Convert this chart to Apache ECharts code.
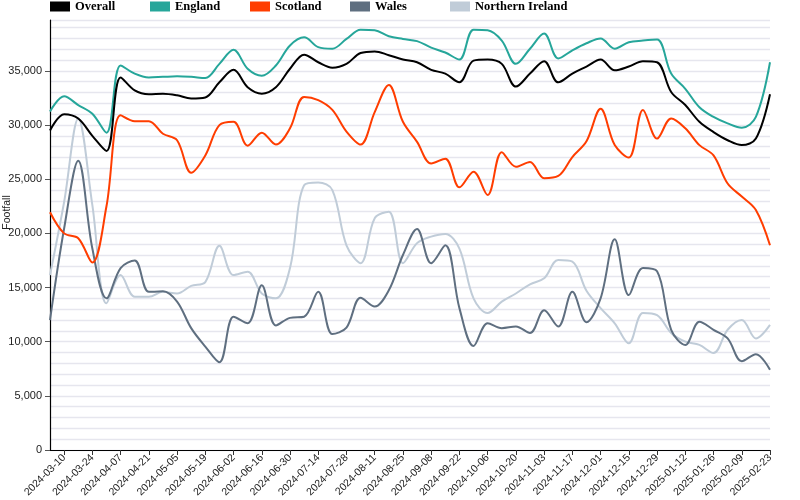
<!DOCTYPE html>
<html>
<head>
<meta charset="utf-8">
<script src="https://cdn.jsdelivr.net/npm/echarts@6/dist/echarts.min.js"></script>
<style>
html,body{margin:0;padding:0;background:#fff;}
#chart{width:800px;height:500px;}
</style>
</head>
<body>
<div id="chart"></div>
<script>
const weeks = ["2024-03-03","2024-03-10","2024-03-17","2024-03-24","2024-03-31","2024-04-07","2024-04-14","2024-04-21","2024-04-28","2024-05-05","2024-05-12","2024-05-19","2024-05-26","2024-06-02","2024-06-09","2024-06-16","2024-06-23","2024-06-30","2024-07-07","2024-07-14","2024-07-21","2024-07-28","2024-08-04","2024-08-11","2024-08-18","2024-08-25","2024-09-01","2024-09-08","2024-09-15","2024-09-22","2024-09-29","2024-10-06","2024-10-13","2024-10-20","2024-10-27","2024-11-03","2024-11-10","2024-11-17","2024-11-24","2024-12-01","2024-12-08","2024-12-15","2024-12-22","2024-12-29","2025-01-05","2025-01-12","2025-01-19","2025-01-26","2025-02-02","2025-02-09","2025-02-16","2025-02-23"];

const overall = [29500,31000,30600,29000,27600,34400,33200,32850,32900,32750,32450,32550,33950,35100,33500,32900,33500,35200,36500,35800,35300,35650,36650,36800,36450,36050,35800,35100,34750,33950,35950,36050,35650,33550,34750,35900,33950,34750,35400,36050,35050,35400,35900,35800,33050,31850,30300,29350,28600,28150,28750,32850];
const england = [31250,32650,31850,31050,29300,35500,34750,34400,34450,34500,34450,34350,35650,36950,35200,34550,35500,37350,38100,37200,37050,37950,38800,38750,38200,37950,37750,37150,36700,36050,38800,38750,37800,35650,37050,38450,36150,36900,37550,38000,37050,37650,37800,37900,34750,33350,31650,30750,30150,29750,30750,35800];
const scotland = [21950,20000,19550,17300,22500,30900,30350,30350,29200,28600,25600,27200,30000,30300,28100,29300,28200,29700,32600,32300,31400,29400,28200,31200,33700,30300,28450,26450,26900,24250,25700,23550,27500,26150,26600,25100,25300,27050,28500,31500,28150,27000,31400,28750,30600,29700,28150,27200,24600,23400,22150,18900];
const wales = [12000,20450,26700,18600,14000,16800,17500,14600,14650,13700,11250,9550,8100,12300,11700,15200,11500,12200,12300,14600,10700,11300,14050,13250,14750,18000,20400,17250,18900,13100,9600,11700,11250,11400,10800,12900,11400,14600,11800,14000,19450,14300,16800,16500,11100,9700,11850,11100,10300,8200,8850,7400];
const northernIreland = [16150,22900,30600,22600,13550,16150,14150,14150,14600,14450,15150,15500,18850,16150,16450,14450,14000,16800,24450,24700,24000,18900,17250,21400,22000,17250,19100,19700,19950,18600,14000,12650,13700,14450,15300,15850,17550,17400,14700,13100,11700,9850,12650,12450,10800,10000,9700,8950,11100,12000,10300,11550];

const yTickValues = [0,5000,10000,15000,20000,25000,30000,35000];
const seriesNames = ["Overall","England","Scotland","Wales","Northern Ireland"];
const seriesColors = ["#000000","#26a69a","#ff3d00","#5f6f80","#c0ccd8"];
const seriesData = [overall, england, scotland, wales, northernIreland];

const yMax = 39700;
const chart = echarts.init(document.getElementById('chart'), null, {renderer:'canvas'});

const legends = seriesNames.map((n,i)=>({
  data:[{name:n, icon:'rect'}],
  left: 50 + 100*i, top: 0, padding: 0,
  itemWidth: 20, itemHeight: 10,
  textStyle:{fontFamily:'"Liberation Serif", serif', fontSize:12.5, fontWeight:'bold', color:'#000'},
  selectedMode:false
}));

const oddOnly = (idx)=> idx % 2 === 1;

chart.setOption({
  animation:false,
  backgroundColor:'#fff',
  legend: legends,
  grid:{left:50, right:30, top:20, bottom:50, containLabel:false, outerBoundsMode:'none'},
  xAxis:[{
    type:'category', data: weeks, boundaryGap:false,
    axisLine:{lineStyle:{color:'#000', width:1.2}},
    axisTick:{interval: oddOnly, length:5, lineStyle:{color:'#333'}},
    axisLabel:{interval: oddOnly, rotate:45, fontSize:10.5, color:'#222', fontFamily:'"Liberation Sans", Arial, sans-serif', margin:6},
    splitLine:{show:false}
  },{
    type:'category', data: weeks, boundaryGap:false, position:'top',
    axisLine:{show:true, lineStyle:{color:'#000', width:1.2}},
    axisTick:{show:false}, axisLabel:{show:false}, splitLine:{show:false}
  }],
  yAxis:[{
    type:'value', min:0, max:yMax, interval:5000,
    name:'Footfall', nameLocation:'middle', nameGap:37, nameMoveOverlap:false,
    nameTextStyle:{fontSize:10.5, color:'#222', fontFamily:'"Liberation Sans", Arial, sans-serif', padding:[0,0,0,45]},
    axisLine:{show:true, lineStyle:{color:'#000', width:1.2}},
    axisTick:{show:true, length:5, customValues: yTickValues, lineStyle:{color:'#555'}},
    axisLabel:{customValues: yTickValues, fontSize:11, color:'#222', margin:8, fontFamily:'"Liberation Sans", Arial, sans-serif',
      formatter:(v)=> v.toLocaleString('en-US')},
    splitLine:{show:false}
  },{
    type:'value', min:0, max:yMax, interval:1000, position:'left', offset:0,
    axisLine:{show:false}, axisTick:{show:false}, axisLabel:{show:false},
    splitLine:{show:true, lineStyle:{color:'#e6e6ee', width:1.3}}
  }],
  series: seriesData.map((d,i)=>({
    name: seriesNames[i], type:'line', data:d, smooth:0.35, showSymbol:false,
    xAxisIndex:0, yAxisIndex:0,
    itemStyle:{color: seriesColors[i]},
    lineStyle:{color: seriesColors[i], width:2},
    z: 10 - i
  }))
});
</script>
</body>
</html>
